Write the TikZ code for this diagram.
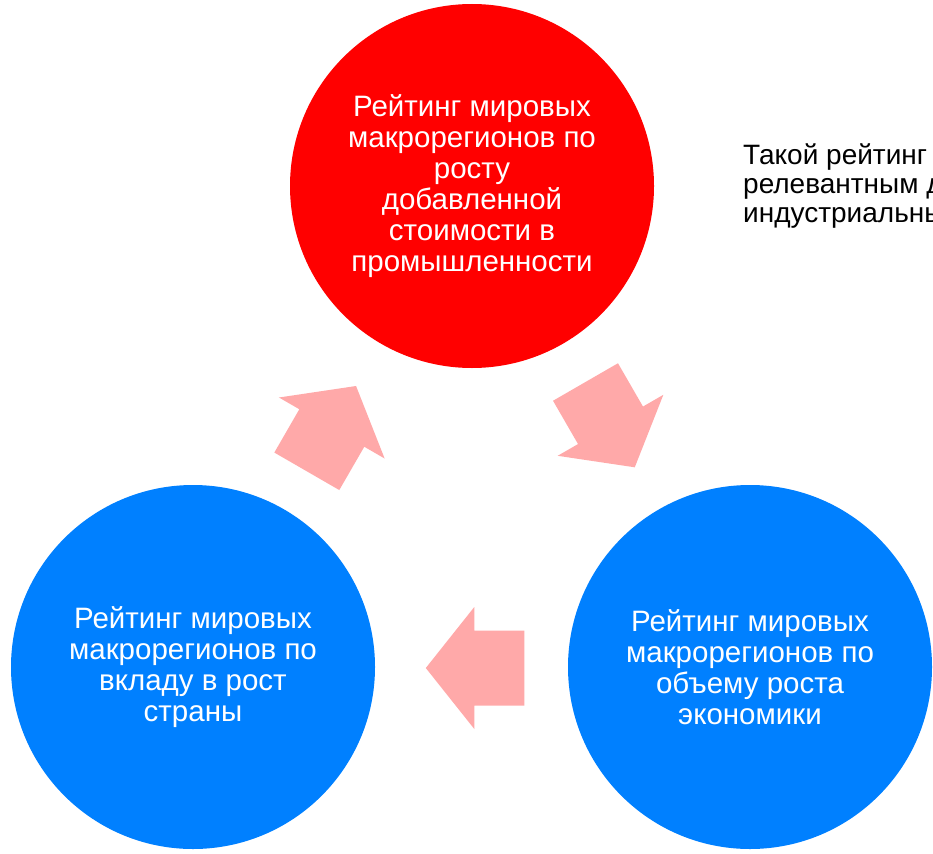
\documentclass[tikz,border=0pt]{standalone}
\usepackage{fontspec}
\setmainfont{Liberation Sans}
\definecolor{cred}{RGB}{255,0,0}
\definecolor{cblue}{RGB}{0,128,255}
\definecolor{carrow}{RGB}{255,169,169}
\tikzset{
  bubble/.style={circle, minimum size=364pt, inner sep=0pt, text=white, align=center,
    font=\fontsize{29.5}{31}\selectfont},
  blockarrow/.pic={\fill[carrow] (0,-37.5) -- (50,-37.5) -- (50,-61) -- (98.5,0) -- (50,61) -- (50,37.5) -- (0,37.5) -- cycle;}
}
\begin{document}
\begin{tikzpicture}[x=1pt,y=-1pt]
\fill[white] (0,0) rectangle (933,853);
\useasboundingbox (0,0) rectangle (933,853);
\node[bubble, fill=cred] (top) at (472,186) {Рейтинг мировых\\макрорегионов по\\росту\\добавленной\\стоимости в\\промышленности};
\node[bubble, fill=cblue] (left) at (193,667) {Рейтинг мировых\\макрорегионов по\\вкладу в рост\\страны};
\node[bubble, fill=cblue] (right) at (750,667) {Рейтинг мировых\\макрорегионов по\\объему роста\\экономики};
\pic[rotate=-60] at (585.5,382) {blockarrow};
\pic[rotate=180] at (524.3,668) {blockarrow};
\pic[rotate=60] at (306.8,471.3) {blockarrow};
\node[anchor=west, align=left, inner sep=0pt, text=black, font=\fontsize{28}{29}\selectfont] (note) at (743,186) {Такой рейтинг\\релевантным д\\индустриальны};
\end{tikzpicture}
\end{document}
